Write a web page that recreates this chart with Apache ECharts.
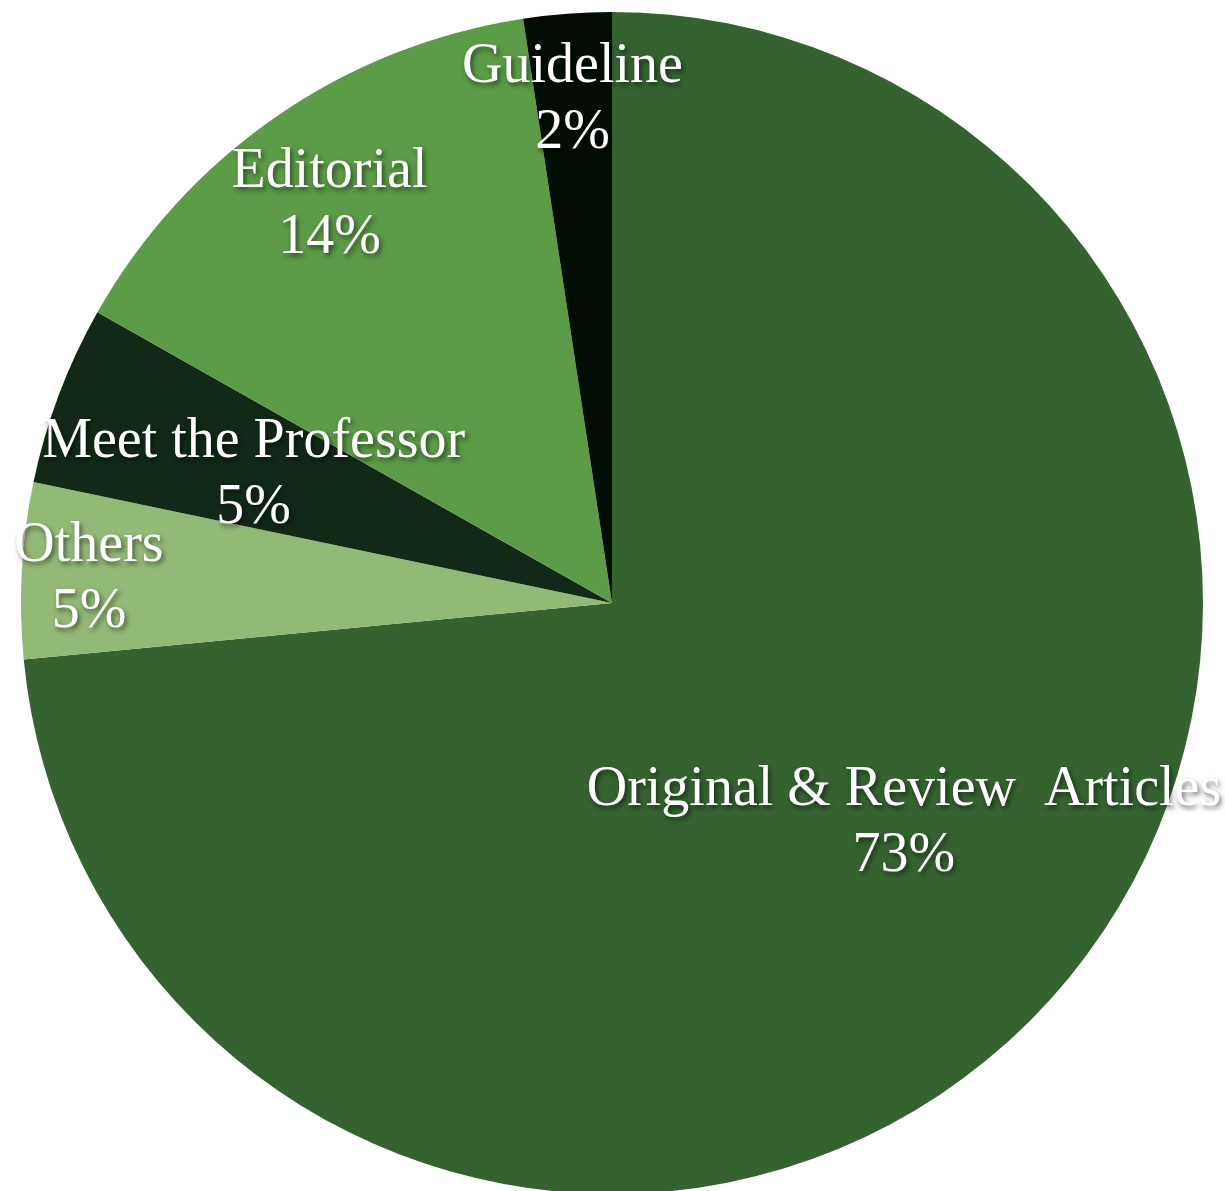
<!DOCTYPE html>
<html>
<head>
<meta charset="utf-8">
<script src="https://cdn.jsdelivr.net/npm/echarts@6/dist/echarts.min.js"></script>
<style>
html,body{margin:0;padding:0;background:#fff;}
#chart{width:1225px;height:1191px;}
</style>
</head>
<body>
<div id="chart"></div>
<script>
// Data (clockwise from 12 o'clock)
const categories = ['Original & Review  Articles', 'Others', 'Meet the Professor', 'Editorial', 'Guideline'];
const shares = [73.4, 4.8, 4.9, 14.4, 2.4];

// Styling
const sliceColors = ['#356330', '#93B977', '#122917', '#5C9B47', '#010D05'];
const labelOffsets = [[71, 20], [-225, -7], [-79, -23], [-113, -152], [-17, -205]];

const chart = echarts.init(document.getElementById('chart'), null, {renderer: 'canvas'});
chart.setOption({
  animation: false,
  backgroundColor: '#ffffff',
  series: [{
    type: 'pie',
    center: [612, 603],
    radius: [0, 591],
    startAngle: 90,
    clockwise: true,
    avoidLabelOverlap: false,
    labelLayout: {hideOverlap: false},
    emphasis: {disabled: true},
    itemStyle: {borderWidth: 0},
    labelLine: {show: false},
    label: {
      show: true,
      position: 'inside',
      color: '#ffffff',
      fontFamily: '"Liberation Serif", "Times New Roman", serif',
      fontSize: 56,
      lineHeight: 66,
      align: 'center',
      textShadowColor: 'rgba(0,0,0,0.55)',
      textShadowBlur: 5,
      textShadowOffsetX: 2,
      textShadowOffsetY: 3,
      formatter: p => p.name + '\n' + Math.round(p.percent) + '%'
    },
    data: categories.map((name, i) => ({
      name: name,
      value: shares[i],
      itemStyle: {color: sliceColors[i]},
      label: {offset: labelOffsets[i]}
    }))
  }]
});
</script>
</body>
</html>
